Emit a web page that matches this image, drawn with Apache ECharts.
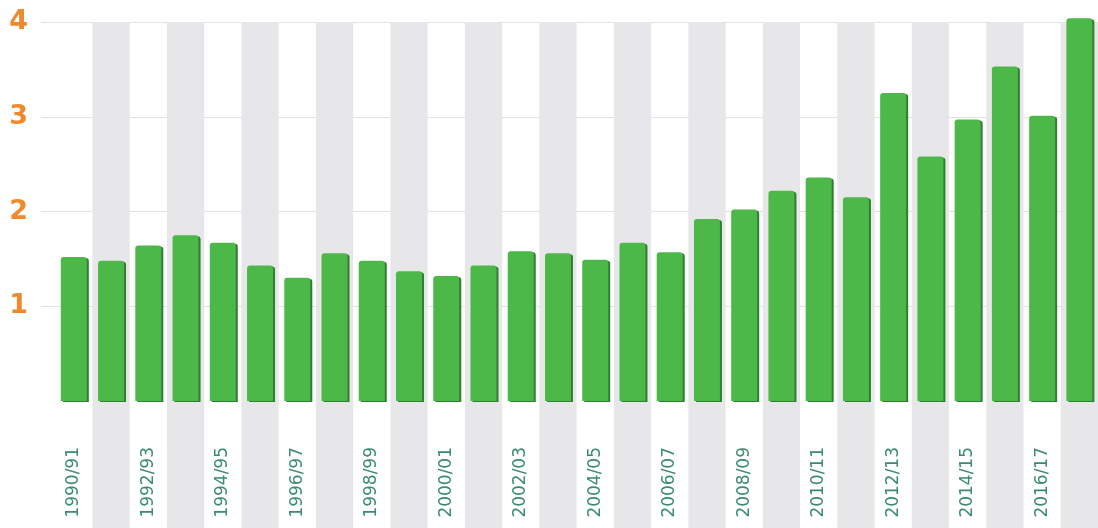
<!DOCTYPE html>
<html>
<head>
<meta charset="utf-8">
<script src="https://cdn.jsdelivr.net/npm/echarts@6/dist/echarts.min.js"></script>
<style>html,body{margin:0;padding:0;background:#fff}#c{width:1098px;height:528px}</style>
</head>
<body>
<div id="c"></div>
<script>
const categories = ['1990/91','1991/92','1992/93','1993/94','1994/95','1995/96','1996/97','1997/98','1998/99','1999/00','2000/01','2001/02','2002/03','2003/04','2004/05','2005/06','2006/07','2007/08','2008/09','2009/10','2010/11','2011/12','2012/13','2013/14','2014/15','2015/16','2016/17','2017/18'];
const values = [1.52,1.48,1.64,1.75,1.67,1.43,1.30,1.56,1.48,1.37,1.32,1.43,1.58,1.56,1.49,1.67,1.57,1.92,2.02,2.22,2.36,2.15,3.25,2.58,2.97,3.53,3.01,4.04];
const yTicks = [0,1,2,3,4];

const chart = echarts.init(document.getElementById('c'), null, {renderer:'canvas'});
const gLeft = 55.2, gRight = -10, gTop = 22, plotH = 379;
chart.setOption({
  animation:false,
  backgroundColor:'#ffffff',
  grid:[
    {left:gLeft, right:gRight, top:gTop, bottom:0},
    {left:41, right:0, top:gTop, height:plotH},
    {left:gLeft, right:gRight, top:gTop, height:plotH}
  ],
  xAxis:[
    {gridIndex:0, type:'category', data:categories, boundaryGap:true,
     axisLine:{show:false}, axisTick:{show:false}, axisLabel:{show:false},
     splitLine:{show:false},
     splitArea:{show:true, interval:0, areaStyle:{color:['rgba(255,255,255,0)','#e7e7e9']}}},
    {gridIndex:1, type:'value', show:false},
    {gridIndex:2, type:'category', data:categories, boundaryGap:true,
     axisLine:{show:false}, axisTick:{show:false},
     axisLabel:{interval:1, rotate:90, margin:46, color:'#3a8c6c', fontSize:17,
       fontFamily:'DejaVu Sans', fontWeight:'normal'}}
  ],
  yAxis:[
    {gridIndex:0, type:'value', show:false},
    {gridIndex:1, type:'value', min:yTicks[0], max:yTicks[yTicks.length-1], interval:1,
     axisLine:{show:false}, axisTick:{show:false},
     splitLine:{show:true, showMinLine:false, lineStyle:{color:'#e2e2e2', width:1}},
     axisLabel:{margin:13, color:'#ef8a2c', fontSize:27, fontWeight:'bold', fontFamily:'DejaVu Sans',
       formatter:v => (v===0 ? '' : String(v))}},
    {gridIndex:2, type:'value', min:0, max:4, interval:1, show:false}
  ],
  series:[
    {type:'bar', xAxisIndex:2, yAxisIndex:2, data:values, barWidth:26, clip:false,
     itemStyle:{color:'#4cb848', borderRadius:[3,3,0,0],
       shadowColor:'#2f7f33', shadowOffsetX:2, shadowOffsetY:1, shadowBlur:0}}
  ]
});
</script>
</body>
</html>
